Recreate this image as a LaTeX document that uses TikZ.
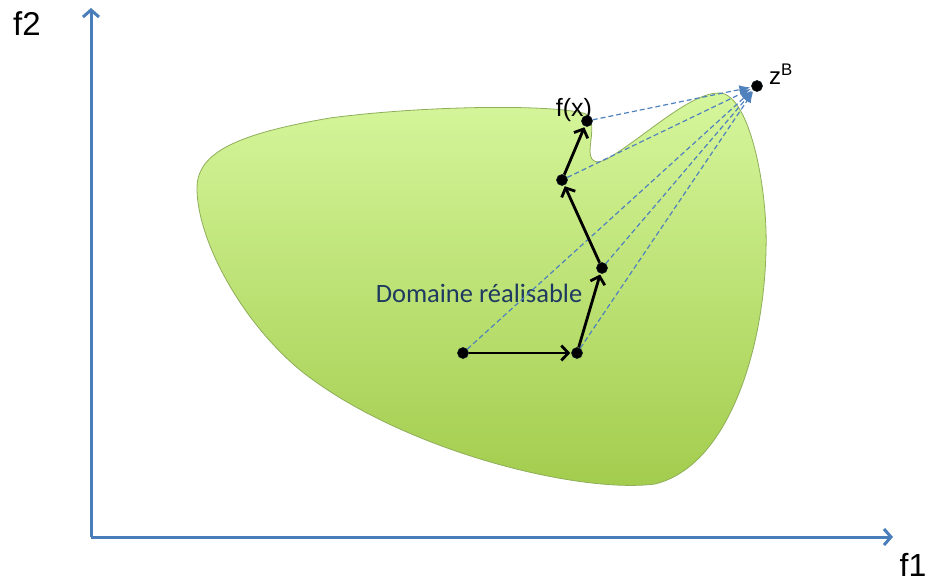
\documentclass[tikz,border=0pt]{standalone}
\usepackage{fontspec}
\setmainfont{Liberation Sans}
\newfontfamily\calfont{Carlito}
\usetikzlibrary{arrows.meta, positioning}
\definecolor{DRaxis}{HTML}{4A7EBB}
\definecolor{DRdash}{HTML}{4F81BD}
\definecolor{DRtop}{HTML}{D6F69C}
\definecolor{DRbot}{HTML}{A2CC4C}
\definecolor{DRrim}{HTML}{8FAE5A}
\definecolor{DRink}{HTML}{1F3A60}
\tikzset{
  drpt/.style={circle, fill=black, draw=black!80!DRaxis, line width=0.6pt,
    minimum size=11pt, inner sep=0pt},
  draxe/.style={-{Straight Barb[length=7pt,width=16pt,line width=3pt]}, line width=3pt, draw=DRaxis},
  drstep/.style={-{Straight Barb[length=7pt,width=15pt]}, line width=2.8pt, draw=black,
    shorten >=1pt},
  drray/.style={-{Latex[length=11pt,width=9pt]}, dashed, dash pattern=on 5pt off 3pt,
    line width=1.2pt, draw=DRdash, shorten >=1pt},
  drlbl/.style={inner sep=0pt, text=black},
}

\begin{document}
\begin{tikzpicture}[x=1pt, y=-1pt]
        \useasboundingbox (0,0) rectangle (933,583);
        % domaine realisable
        \path[top color=DRtop, bottom color=DRbot, draw=DRrim, line width=0.8pt]
          (197,190) .. controls (196,155) and (230,135) .. (330,118)
          .. controls (420,106) and (545,104) .. (583,113)
          .. controls (597,116) and (590,140) .. (590,151)
          .. controls (590,165) and (600,164) .. (612,156)
          .. controls (650,132) and (692,92) .. (720,93)
          .. controls (750,95) and (768,190) .. (766,250)
          .. controls (764,350) and (728,466) .. (655,484)
          .. controls (578,494) and (400,450) .. (300,370)
          .. controls (240,320) and (198,240) .. (197,190) -- cycle;
        % axes
        \coordinate (O) at (91,537);
        \coordinate (xend) at (893,537);
        \coordinate (yend) at (91,8);
        \draw[draxe] (O) -- (xend);
        \draw[draxe] (O) -- (yend);
        \node[drlbl, font=\fontsize{33}{36}\selectfont] (f2) at (27,24) {f2};
        \node[drlbl, font=\fontsize{32}{36}\selectfont] (f1) at (913,565) {f1};
        \node[drlbl, text=DRink, font=\calfont\fontsize{26.5}{30}\selectfont] (dom) at (479,293) {Domaine réalisable};
        % points
        \node[drpt] (p1) at (463,353) {};
        \node[drpt] (p2) at (577,353) {};
        \node[drpt] (p3) at (602,268) {};
        \node[drpt] (p4) at (562,180) {};
        \node[drpt] (fx) at (587,121) {};
        \node[drpt] (zB) at (757,86) {};
        \node[drlbl, anchor=base, font=\fontsize{25}{28}\selectfont] (fxl) at (574,117) {f(x)};
        \node[drlbl, anchor=base west, font=\fontsize{24}{28}\selectfont] (zBl) at (769,85) {z\textsuperscript{B}};
        % rayons vers z^B
        \foreach \p in {p1,p2,p3,p4,fx}
          \draw[drray] (\p) -- (zB);
        % trajectoire
        \draw[drstep] (p1) -- (p2);
        \draw[drstep] (p2) -- (p3);
        \draw[drstep] (p3) -- (p4);
        \draw[drstep] (p4) -- (fx);
      \end{tikzpicture}
\end{document}
